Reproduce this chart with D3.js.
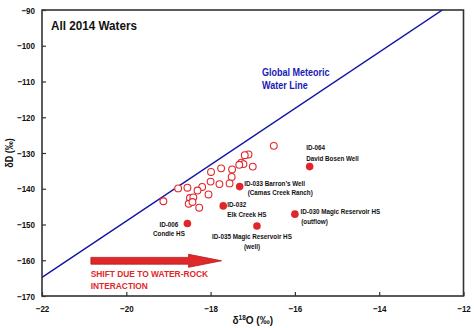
<!DOCTYPE html>
<html><head><meta charset="utf-8">
<script src="https://cdn.jsdelivr.net/npm/d3@7"></script>
<style>
html,body{margin:0;padding:0;background:#fff;}
svg{display:block;font-family:"Liberation Sans",Arial,sans-serif;}
</style></head>
<body>
<svg id="c" width="474" height="328"></svg>
<script>
// ---- data ----
const openX = [-16.50,-17.10,-17.19,-17.27,-17.22,-17.32,-17.00,-17.49,-17.75,-17.99,-17.50,-17.55,-17.79,-18.00,-18.20,-18.31,-18.55,-18.77,-18.05,-18.49,-18.41,-18.52,-18.43,-18.27,-19.12];
const openY = [-128.0,-130.4,-130.6,-132.7,-133.1,-133.3,-133.8,-134.6,-134.3,-135.3,-136.7,-138.5,-138.7,-138.0,-139.5,-140.5,-139.7,-139.9,-141.6,-142.6,-142.4,-144.2,-143.7,-145.3,-143.5];
const filledX = [-15.65,-17.31,-17.70,-18.55,-16.00,-16.90];
const filledY = [-133.8,-139.4,-144.8,-149.7,-147.1,-150.4];
const filledLabel1 = ["ID-064","ID-033 Barron\u2019s Well","ID-032","ID-006","ID-030 Magic Reservoir HS","ID-035 Magic Reservoir HS"];
const filledLabel2 = ["David Bosen Well","(Camas Creek Ranch)","Elk Creek HS","Condie HS","(outflow)","(well)"];
const gmwlX = [-22, -12.5];
const gmwlY = [-164.8, -90];
const arrowX = [-20.84, -17.74];
const arrowY = -160.15;
const xTicks = [-22,-20,-18,-16,-14,-12];
const yTicks = [-90,-100,-110,-120,-130,-140,-150,-160,-170];

// ---- layout ----
const L=42, R=463.5, T=10, B=296;
const x = d3.scaleLinear().domain([-22,-12]).range([L,R]);
const y = d3.scaleLinear().domain([-170,-90]).range([B,T]);
const svg = d3.select("#c");
const red = "#e1262b";

// axes with inward ticks
const gx = svg.append("g").attr("transform",`translate(0,${B})`)
  .call(d3.axisBottom(x).tickValues(xTicks).tickSizeInner(-4).tickSizeOuter(0).tickPadding(11).tickFormat(d3.format("d")));
const gy = svg.append("g").attr("transform",`translate(${L},0)`)
  .call(d3.axisLeft(y).tickValues(yTicks).tickSizeInner(-4).tickSizeOuter(0).tickPadding(7).tickFormat(d3.format("d")));
[gx,gy].forEach(g=>{
  g.select(".domain").remove();
  g.selectAll(".tick line").attr("stroke","#333").attr("stroke-width",1.2);
  g.selectAll(".tick text").attr("font-size","8px").attr("font-weight","bold").attr("fill","#111")
    .attr("font-family","'Liberation Sans',Arial,sans-serif").classed("cal",true);
});
gy.selectAll(".tick text").attr("dy","0.34em");
gx.selectAll(".tick text").attr("dy","0.55em");

// frame
svg.append("rect").attr("x",L).attr("y",T).attr("width",R-L).attr("height",B-T)
  .attr("fill","none").attr("stroke","#333").attr("stroke-width",1.6);

// clip
svg.append("clipPath").attr("id","clip").append("rect").attr("x",L).attr("y",T).attr("width",R-L).attr("height",B-T);

// GMWL
svg.append("path").attr("clip-path","url(#clip)")
  .attr("d", d3.line()(gmwlX.map((v,i)=>[x(v),y(gmwlY[i])])))
  .attr("stroke","#1414a8").attr("stroke-width",1.5).attr("fill","none");

// open points
svg.append("g").selectAll("circle").data(openX).join("circle")
  .attr("cx",d=>x(d)).attr("cy",(d,i)=>y(openY[i])).attr("r",3.4)
  .attr("fill","#fff").attr("stroke",red).attr("stroke-width",1.1);

// filled points
svg.append("g").selectAll("circle").data(filledX).join("circle")
  .attr("cx",d=>x(d)).attr("cy",(d,i)=>y(filledY[i])).attr("r",3.8)
  .attr("fill",red);

// point labels (offsets)
const lblOff = [
  {dx:-3.5,dy:-16.5,anchor:"start",dx2:-3.5,dy2:-6},
  {dx:4.5,dy:-0.8,anchor:"start",dx2:8,dy2:8.8},
  {dx:4,dy:1.3,anchor:"start",dx2:4,dy2:10.7},
  {dx:-18.5,dy:3.4,anchor:"middle",dx2:-18.5,dy2:12.7},
  {dx:5.6,dy:0,anchor:"start",dx2:6.3,dy2:10},
  {dx:-5,dy:13.3,anchor:"middle",dx2:-5,dy2:23}
];
const lg = svg.append("g").attr("font-size","6.3px").attr("font-weight","bold").attr("fill","#111");
filledX.forEach((v,i)=>{
  const o=lblOff[i];
  lg.append("text").classed("cal",true).attr("x",x(v)+o.dx).attr("y",y(filledY[i])+o.dy).attr("text-anchor",o.anchor).text(filledLabel1[i]);
  lg.append("text").classed("cal",true).attr("x",x(v)+o.dx2).attr("y",y(filledY[i])+o.dy2).attr("text-anchor",o.anchor).text(filledLabel2[i]);
});

// arrow
const ax0=x(arrowX[0]), ax1=x(arrowX[1]), ay=y(arrowY), hl=33, sh=3.4, hh=6.5;
svg.append("path")
  .attr("d",`M${ax0},${ay-sh}L${ax1-hl},${ay-sh}L${ax1-hl},${ay-hh}L${ax1},${ay}L${ax1-hl},${ay+hh}L${ax1-hl},${ay+sh}L${ax0},${ay+sh}Z`)
  .attr("fill","#e0282a").attr("stroke","#b01c1c").attr("stroke-width",0.8);

// texts
svg.append("text").classed("cal",true).attr("x",51).attr("y",30).attr("font-size","11.7px").attr("font-weight","bold").attr("fill","#111").text("All 2014 Waters");
const gm = svg.append("g").attr("font-size","9px").attr("font-weight","bold").attr("fill","#1a1ab4");
gm.append("text").classed("cal",true).attr("x",262).attr("y",76).text("Global Meteoric");
gm.append("text").classed("cal",true).attr("x",262).attr("y",89).text("Water Line");
const sh2 = svg.append("g").attr("font-size","8.4px").attr("font-weight","bold").attr("fill","#e0282a");
sh2.append("text").classed("cal",true).attr("x",90.7).attr("y",276.5).text("SHIFT DUE TO WATER-ROCK");
sh2.append("text").classed("cal",true).attr("x",90.7).attr("y",289.3).text("INTERACTION");

// axis titles
const xt = svg.append("text").attr("x",(L+R)/2).attr("y",324).attr("text-anchor","middle")
  .attr("font-size","10px").attr("font-weight","bold").attr("fill","#111");
xt.append("tspan").text("\u03B4");
xt.append("tspan").attr("font-size","6.5px").attr("dy","-4").text("18");
xt.append("tspan").attr("dy","4").text("O (\u2030)");
svg.append("text").classed("cal",true).attr("transform",`translate(13,${(T+B)/2}) rotate(-90)`).attr("text-anchor","middle")
  .attr("font-size","9px").attr("font-weight","bold").attr("fill","#111").text("\u03B4D (\u2030)");

// emulate a narrower, taller face (Calibri-like): keep width, enlarge glyph height
svg.selectAll("text.cal").each(function(){
  const el = d3.select(this);
  const w = this.getComputedTextLength();
  const fs = parseFloat(getComputedStyle(this).fontSize);
  el.attr("font-size",(fs*1.15)+"px").attr("textLength",w).attr("lengthAdjust","spacingAndGlyphs");
});
</script>
</body></html>
